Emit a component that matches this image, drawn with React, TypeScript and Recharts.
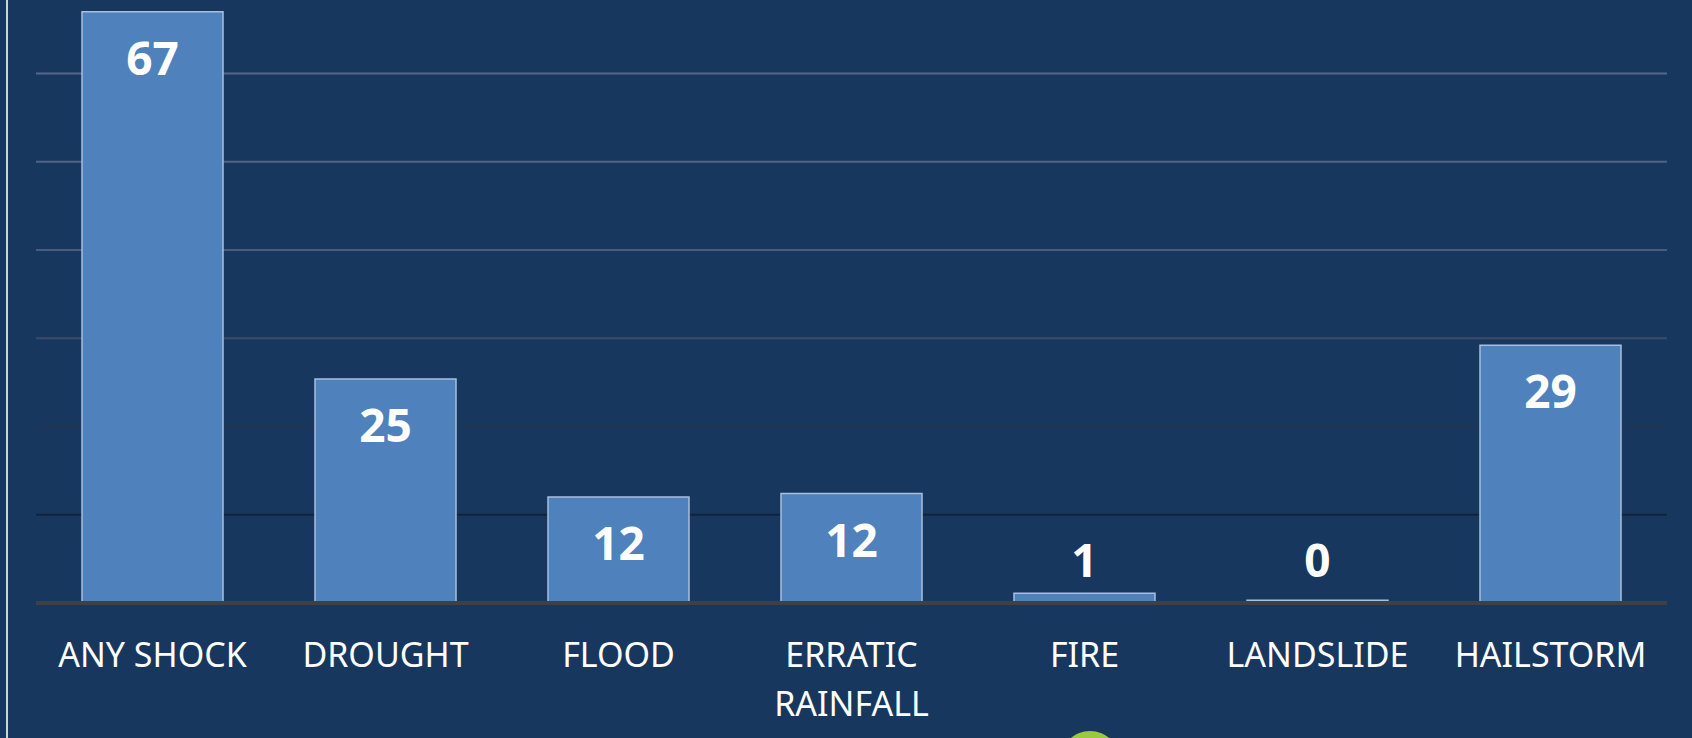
import React from "react";
import { BarChart, Bar, XAxis, YAxis, CartesianGrid, LabelList, ReferenceLine } from "recharts";

const categories = ["ANY SHOCK", "DROUGHT", "FLOOD", "ERRATIC RAINFALL", "FIRE", "LANDSLIDE", "HAILSTORM"];
const values = [67, 25.4, 12, 12.4, 1.1, 0.3, 29.2];
const yTicks = [0, 10, 20, 30, 40, 50, 60];

// gridline colours get lighter towards the top, like the slide
const gridColors: Record<number, string> = {
  0: "none",
  10: "#13233b",
  20: "#233552",
  30: "#3a4c69",
  40: "#4a5d7d",
  50: "#4f6384",
  60: "#55688a",
};

const data = categories.map((name, i) => ({ name, value: values[i] }));

const BG = "#18375e";
const FONT = "'Noto Sans', 'Open Sans', sans-serif";

const GridLine = (props: any) => {
  const { x1, x2, y1, y2, index } = props;
  const color = gridColors[yTicks[index]] ?? "none";
  return <line x1={x1} x2={x2} y1={y1} y2={y2} stroke={color} strokeWidth={2} />;
};

const CategoryTick = (props: any) => {
  const { x, y, payload } = props;
  const text: string = payload.value;
  const lines = text.length > 12 ? text.split(" ") : [text];
  return (
    <text x={x} y={y} textAnchor="middle" fill="#ffffff" fontFamily={FONT} fontSize={34}>
      {lines.map((l, i) => (
        <tspan key={i} x={x} dy={i === 0 ? 56 : 49}>
          {l}
        </tspan>
      ))}
    </text>
  );
};

const ValueLabel = (props: any) => {
  const { x, y, width, height, value } = props;
  const inside = height > 60;
  const ty = inside ? y + 63 : y + height - 26;
  return (
    <text
      x={x + width / 2}
      y={ty}
      textAnchor="middle"
      fill="#ffffff"
      fontFamily={FONT}
      fontWeight={700}
      fontSize={46}
    >
      {Math.round(value)}
    </text>
  );
};

export default function App() {
  return (
    <div
      style={{
        position: "fixed",
        left: 0,
        top: 0,
        width: 1692,
        height: 738,
        background: BG,
        overflow: "hidden",
      }}
    >
      <div style={{ position: "absolute", left: 6, top: 0, width: 2, height: 738, background: "#cfd3d8" }} />
      <div
        style={{
          position: "absolute",
          left: 1060,
          top: 731,
          width: 60,
          height: 60,
          borderRadius: 30,
          background: "#9ac93b",
        }}
      />
      <BarChart
        width={1692}
        height={738}
        data={data}
        margin={{ top: 3, right: 25, left: 36, bottom: 0 }}
        style={{ position: "absolute", left: 0, top: 0 }}
      >
        <CartesianGrid vertical={false} horizontal={(p: any) => <GridLine {...p} />} />
        <XAxis
          dataKey="name"
          height={135}
          axisLine={false}
          tickLine={false}
          interval={0}
          tick={<CategoryTick />}
        />
        <YAxis hide domain={[0, 68]} ticks={yTicks} />
        <Bar
          dataKey="value"
          fill="#4f81bd"
          stroke="#a8bfdd"
          strokeWidth={1.5}
          barSize={141}
          isAnimationActive={false}
        >
          <LabelList dataKey="value" content={<ValueLabel />} />
        </Bar>
        <ReferenceLine y={0} stroke="#404040" strokeWidth={4} />
      </BarChart>
    </div>
  );
}
